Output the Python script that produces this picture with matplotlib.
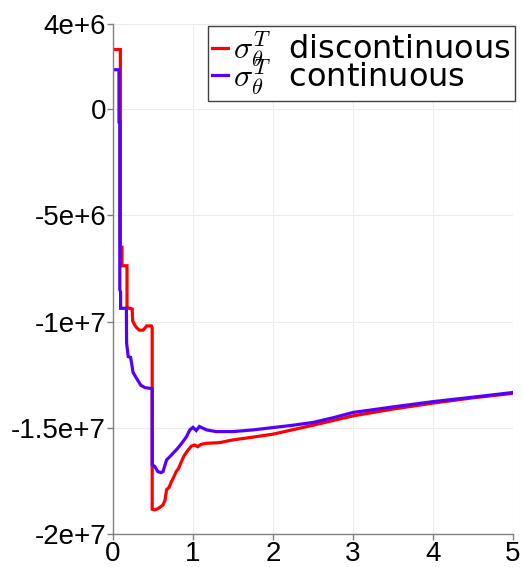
import matplotlib
matplotlib.use("Agg")
import matplotlib.pyplot as plt

# ---- data ----
red_x = [0, 0.092, 0.092, 0.112, 0.112, 0.175, 0.175, 0.20, 0.24, 0.245, 0.27, 0.30, 0.33, 0.375,
         0.40, 0.42, 0.48, 0.49, 0.49, 0.52, 0.56, 0.625, 0.65, 0.67, 0.70, 0.73, 0.76, 0.79, 0.82,
         0.855, 0.89, 0.94, 0.98, 1.02, 1.06, 1.1, 1.17, 1.33, 1.5, 1.75, 2.0, 2.25, 2.5, 2.75,
         3.0, 3.5, 4.0, 4.5, 5.0]
red_y = [2.8e6, 2.8e6, -6.5e6, -6.5e6, -7.37e6, -7.37e6, -9.37e6, -9.37e6, -9.4e6, -9.95e6,
         -1.015e7, -1.03e7, -1.04e7, -1.04e7, -1.03e7, -1.02e7, -1.02e7, -1.03e7, -1.882e7,
         -1.885e7, -1.88e7, -1.862e7, -1.84e7, -1.79e7, -1.78e7, -1.753e7, -1.73e7, -1.705e7,
         -1.69e7, -1.658e7, -1.63e7, -1.603e7, -1.585e7, -1.58e7, -1.588e7, -1.577e7, -1.572e7,
         -1.569e7, -1.556e7, -1.543e7, -1.529e7, -1.508e7, -1.487e7, -1.465e7, -1.443e7,
         -1.411e7, -1.383e7, -1.358e7, -1.337e7]

blue_x = [0, 0.075, 0.075, 0.085, 0.085, 0.095, 0.095, 0.167, 0.17, 0.19, 0.22, 0.235, 0.25,
          0.30, 0.35, 0.40, 0.49, 0.49, 0.52, 0.56, 0.60, 0.625, 0.67, 0.71, 0.75, 0.81, 0.875,
          0.92, 0.96, 1.0, 1.04, 1.08, 1.17, 1.29, 1.5, 1.75, 2.0, 2.25, 2.5, 2.75, 3.0, 3.5,
          4.0, 4.5, 5.0]
blue_y = [1.85e6, 1.85e6, -0.6e6, -0.6e6, -8.5e6, -8.6e6, -9.37e6, -9.37e6, -1.1e7, -1.164e7,
          -1.168e7, -1.2e7, -1.238e7, -1.27e7, -1.30e7, -1.31e7, -1.315e7, -1.674e7, -1.68e7,
          -1.705e7, -1.71e7, -1.705e7, -1.65e7, -1.635e7, -1.619e7, -1.595e7, -1.564e7,
          -1.54e7, -1.509e7, -1.497e7, -1.512e7, -1.493e7, -1.509e7, -1.517e7, -1.517e7,
          -1.509e7, -1.498e7, -1.487e7, -1.474e7, -1.452e7, -1.427e7, -1.401e7, -1.376e7,
          -1.355e7, -1.333e7]

labels = [r"$\sigma_\theta^T$  discontinuous", r"$\sigma_\theta^T$  continuous"]
x_ticks = [0, 1, 2, 3, 4, 5]
x_tick_labels = ["0", "1", "2", "3", "4", "5"]
y_ticks = [4e6, 0, -5e6, -1e7, -1.5e7, -2e7]
y_tick_labels = ["4e+6", "0", "-5e+6", "-1e+7", "-1.5e+7", "-2e+7"]

plt.rcParams["mathtext.fontset"] = "cm"

fig = plt.figure(figsize=(5.23, 5.67), dpi=100)
ax = fig.add_axes([113 / 523, 1 - 534.3 / 567, 400 / 523, (534.3 - 24) / 567])

ax.plot(red_x, red_y, color="#ff0000", lw=2.3, label=labels[0], solid_joinstyle="miter")
ax.plot(blue_x, blue_y, color="#5500ff", lw=2.3, label=labels[1], solid_joinstyle="miter")

ax.set_xlim(0, 5)
ax.set_ylim(-2e7, 4e6)
ax.set_xticks(x_ticks)
ax.set_xticklabels(x_tick_labels, fontfamily="Liberation Sans", fontsize=20)
ax.set_yticks(y_ticks)
ax.set_yticklabels(y_tick_labels, fontfamily="Liberation Sans", fontsize=20)

for s in ["top", "right"]:
    ax.spines[s].set_visible(False)
for s in ["left", "bottom"]:
    ax.spines[s].set_color("#808080")
    ax.spines[s].set_linewidth(1.0)
ax.tick_params(axis="both", direction="out", length=4, width=1, color="#808080", pad=1)
ax.grid(True, color="#ececec", lw=0.8)
ax.set_axisbelow(True)

leg = ax.legend(loc="upper right", bbox_to_anchor=(1.005, 0.997), borderaxespad=0,
                fontsize=23, handlelength=0.5, handletextpad=0.16, labelspacing=-0.38,
                borderpad=0.12, fancybox=False, framealpha=1, edgecolor="#404040")
leg.get_frame().set_linewidth(1.0)

fig.savefig("out.png", dpi=100)
